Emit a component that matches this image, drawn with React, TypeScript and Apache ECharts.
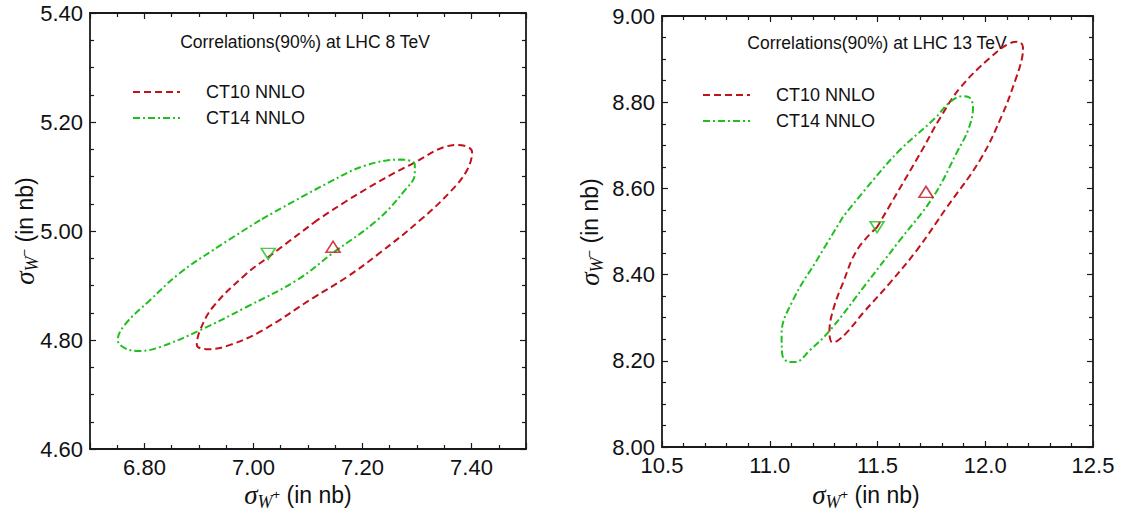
import React, { useEffect, useRef } from "react";
import * as echarts from "echarts";

// ---------------- data ----------------
const panelTitles = ["Correlations(90%) at LHC 8 TeV", "Correlations(90%) at LHC 13 TeV"];
const seriesNames = ["CT10 NNLO", "CT14 NNLO"];

const xRange8 = [6.7, 7.5];
const yRange8 = [4.6, 5.4];
const xRange13 = [10.5, 12.5];
const yRange13 = [8.0, 9.0];

// 90% C.L. ellipse outlines, [sigma(W+), sigma(W-)] in nb
const ct10Lhc8: number[][] = [
  [7.117, 5.02], [7.027, 4.952], [6.984, 4.919], [6.926, 4.861], [6.902, 4.818],
  [6.896, 4.791], [6.917, 4.783], [6.957, 4.791], [7.017, 4.818], [7.109, 4.877],
  [7.172, 4.916], [7.232, 4.96], [7.306, 5.02], [7.361, 5.072], [7.392, 5.112],
  [7.401, 5.145], [7.375, 5.158], [7.287, 5.121], [7.195, 5.07],
];
const ct14Lhc8: number[][] = [
  [7.012, 5.02], [6.926, 4.965], [6.865, 4.923], [6.81, 4.873], [6.764, 4.828],
  [6.751, 4.8], [6.764, 4.785], [6.792, 4.78], [6.828, 4.787], [6.902, 4.818],
  [6.988, 4.861], [7.08, 4.91], [7.146, 4.96], [7.227, 5.02], [7.278, 5.075],
  [7.296, 5.105], [7.296, 5.122], [7.27, 5.131], [7.205, 5.12], [7.14, 5.09],
];
const ct10Lhc13: number[][] = [
  [11.498, 8.51], [11.405, 8.457], [11.34, 8.381], [11.294, 8.318], [11.277, 8.267],
  [11.29, 8.243], [11.313, 8.246], [11.36, 8.267], [11.433, 8.311], [11.558, 8.381],
  [11.683, 8.457], [11.823, 8.557], [11.976, 8.666], [12.078, 8.77], [12.143, 8.856],
  [12.171, 8.903], [12.175, 8.928], [12.152, 8.94], [12.115, 8.937], [12.022, 8.903],
  [11.883, 8.833], [11.79, 8.763], [11.707, 8.689],
];
const ct14Lhc13: number[][] = [
  [11.34, 8.534], [11.219, 8.434], [11.108, 8.341], [11.055, 8.262], [11.058, 8.215],
  [11.085, 8.198], [11.117, 8.197], [11.187, 8.225], [11.28, 8.271], [11.451, 8.381],
  [11.604, 8.48], [11.758, 8.58], [11.874, 8.689], [11.92, 8.735], [11.943, 8.787],
  [11.929, 8.81], [11.897, 8.814], [11.836, 8.8], [11.767, 8.763], [11.604, 8.689],
  [11.479, 8.619],
];
// central predictions
const ct10Central8 = [7.146, 4.971];
const ct14Central8 = [7.027, 4.958];
const ct10Central13 = [11.725, 8.592];
const ct14Central13 = [11.498, 8.51];

// ---------------- styles ----------------
const RED = "#c1121a";
const GREEN = "#1fbf1f";
const AXIS = "#1a1a1a";
const SANS = "Liberation Sans, Arial, sans-serif";
const SERIF = "Liberation Serif, Times New Roman, serif";
const redDash = [7, 4];
const greenDash = [7, 3, 2, 3];

const close = (pts: number[][]) => pts.concat([pts[0]]);

function makeAxis(
  gridIndex: number,
  range: number[],
  position: string,
  showLabel: boolean,
  minorSplit: number,
  digits: number,
  splitNumber: number,
  showEnds: boolean
) {
  return {
    type: "value",
    gridIndex,
    position,
    min: range[0],
    max: range[1],
    splitNumber,
    axisLine: { show: true, onZero: false, lineStyle: { color: AXIS, width: 1.8 } },
    axisTick: { show: true, inside: true, length: 6, lineStyle: { color: AXIS, width: 1.2 } },
    minorTick: { show: true, splitNumber: minorSplit, length: 4, lineStyle: { color: AXIS, width: 1.2 } },
    splitLine: { show: false },
    minorSplitLine: { show: false },
    axisLabel: {
      show: showLabel,
      margin: 7,
      fontSize: 22,
      fontFamily: SANS,
      color: "#111",
      showMinLabel: showEnds,
      showMaxLabel: showEnds,
      formatter: (v: number) => v.toFixed(digits),
    },
  };
}

function axisName(x: number, y: number, sign: string, vertical: boolean) {
  return {
    type: "text",
    x,
    y,
    rotation: vertical ? Math.PI / 2 : 0,
    style: {
      text: "{s|σ}{w|W}{p|" + sign + "}{n| (in nb)}",
      align: "center",
      verticalAlign: "middle",
      fill: "#111",
      rich: {
        s: { fontFamily: SERIF, fontStyle: "italic", fontSize: 27, fill: "#111" },
        w: { fontFamily: SERIF, fontStyle: "italic", fontSize: 18, fill: "#111", padding: [13, 0, 0, 0] },
        p: { fontFamily: SANS, fontSize: 13, fill: "#111", padding: [0, 0, 2, 0] },
        n: { fontFamily: SANS, fontSize: 23, fill: "#111" },
      },
    },
  };
}

function legend(x0: number, y0: number) {
  const items: any[] = [];
  [RED, GREEN].forEach((c, i) => {
    const y = y0 + i * 26;
    items.push({
      type: "line",
      shape: { x1: x0, y1: y, x2: x0 + 47, y2: y },
      style: { stroke: c, lineWidth: 2, lineDash: i === 0 ? redDash : greenDash },
    });
    items.push({
      type: "text",
      x: x0 + 73,
      y,
      style: { text: seriesNames[i], fontSize: 18, fontFamily: SANS, fill: "#111", verticalAlign: "middle" },
    });
  });
  return items;
}

function ellipseSeries(data: number[][], idx: number, color: string, dash: number[]) {
  return {
    type: "line",
    xAxisIndex: idx * 2,
    yAxisIndex: idx * 2,
    data: close(data),
    smooth: 0.4,
    showSymbol: false,
    symbol: "none",
    silent: true,
    lineStyle: { color, width: 2, type: dash },
    z: 3,
  };
}

function markerSeries(pt: number[], idx: number, color: string, down: boolean) {
  return {
    type: "scatter",
    xAxisIndex: idx * 2,
    yAxisIndex: idx * 2,
    data: [pt],
    symbol: "triangle",
    symbolRotate: down ? 180 : 0,
    symbolSize: [14, 11],
    itemStyle: { color: "rgba(0,0,0,0)", borderColor: color, borderWidth: 1.6 },
    z: 4,
  };
}

export default function App() {
  const ref = useRef<HTMLDivElement>(null);
  useEffect(() => {
    if (!ref.current) return;
    const chart = echarts.init(ref.current, undefined, { renderer: "svg" });
    const option: any = {
      animation: false,
      backgroundColor: "#ffffff",
      grid: [
        { left: 90, top: 13, width: 436, height: 436 },
        { left: 662, top: 16, width: 431, height: 431 },
      ],
      xAxis: [
        makeAxis(0, xRange8, "bottom", true, 4, 2, 5, false),
        makeAxis(0, xRange8, "top", false, 4, 2, 5, false),
        makeAxis(1, xRange13, "bottom", true, 5, 1, 4, true),
        makeAxis(1, xRange13, "top", false, 5, 1, 4, true),
      ],
      yAxis: [
        makeAxis(0, yRange8, "left", true, 4, 2, 5, true),
        makeAxis(0, yRange8, "right", false, 4, 2, 5, true),
        makeAxis(1, yRange13, "left", true, 4, 2, 5, true),
        makeAxis(1, yRange13, "right", false, 4, 2, 5, true),
      ],
      series: [
        ellipseSeries(ct10Lhc8, 0, RED, redDash),
        ellipseSeries(ct14Lhc8, 0, GREEN, greenDash),
        markerSeries(ct10Central8, 0, RED, false),
        markerSeries(ct14Central8, 0, GREEN, true),
        ellipseSeries(ct10Lhc13, 1, RED, redDash),
        ellipseSeries(ct14Lhc13, 1, GREEN, greenDash),
        markerSeries(ct10Central13, 1, RED, false),
        markerSeries(ct14Central13, 1, GREEN, true),
      ],
      graphic: [
        {
          type: "text",
          x: 305,
          y: 42,
          style: { text: panelTitles[0], fontSize: 17.5, fontFamily: SANS, fill: "#111", align: "center", verticalAlign: "middle" },
        },
        {
          type: "text",
          x: 877,
          y: 43,
          style: { text: panelTitles[1], fontSize: 17.5, fontFamily: SANS, fill: "#111", align: "center", verticalAlign: "middle" },
        },
        ...legend(133, 92),
        ...legend(703, 95),
        axisName(298, 495, "+", false),
        axisName(866, 495, "+", false),
        axisName(25, 231, "−", true),
        axisName(590, 232, "−", true),
      ],
    };
    chart.setOption(option);
    return () => chart.dispose();
  }, []);
  return (
    <div
      ref={ref}
      style={{ position: "fixed", left: 0, top: 0, width: 1130, height: 519, background: "#fff" }}
    />
  );
}
